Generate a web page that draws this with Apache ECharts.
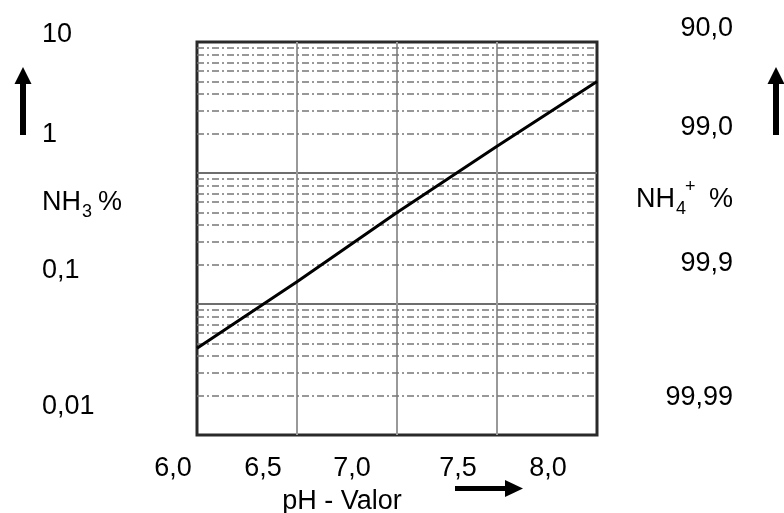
<!DOCTYPE html>
<html>
<head>
<meta charset="utf-8">
<script src="https://cdn.jsdelivr.net/npm/echarts@6/dist/echarts.min.js"></script>
<style>
  html, body { margin: 0; padding: 0; background: #fff; }
  #chart { width: 784px; height: 513px; }
</style>
</head>
<body>
<div id="chart"></div>
<script>
// pH values and NH3 share (%)
var phValues = [6.0, 6.5, 7.0, 7.5, 8.0];
var nh3Percent = [0.046, 0.148, 0.50, 1.6, 5.0];

// tick labels (placed loosely like the original figure)
var xTickLabels = ['6,0', '6,5', '7,0', '7,5', '8,0'];
var leftTickLabels = ['10', '1', '0,1', '0,01'];
var rightTickLabels = ['90,0', '99,0', '99,9', '99,99'];

// minor grid: 2..9 within each decade
var decades = [0.01, 0.1, 1];
var minorSteps = [2, 3, 4, 5, 6, 7, 8, 9];

var FONT = 'Liberation Sans, Arial, sans-serif';

var chart = echarts.init(document.getElementById('chart'), null, { renderer: 'canvas' });

var minorLines = [];
decades.forEach(function (d) {
  minorSteps.forEach(function (k) {
    minorLines.push({ yAxis: +(d * k).toPrecision(3) });
  });
});

function txt(text, x, y, align, size) {
  return {
    type: 'text',
    x: x,
    y: y,
    z: 10,
    style: {
      text: text,
      fill: '#000',
      font: (size || 27) + 'px ' + FONT,
      align: align || 'left',
      verticalAlign: 'middle'
    }
  };
}

var leftY = [35, 135, 271, 407];
var rightY = [29, 128, 264, 398];
var xLabelX = [173, 263, 352, 458, 548];

var graphics = [];
leftTickLabels.forEach(function (t, i) { graphics.push(txt(t, 42, leftY[i], 'left')); });
rightTickLabels.forEach(function (t, i) { graphics.push(txt(t, 733, rightY[i], 'right')); });
xTickLabels.forEach(function (t, i) { graphics.push(txt(t, xLabelX[i], 469, 'center')); });
graphics.push(txt('pH - Valor', 342, 502, 'center'));

// NH3 % (left)
graphics.push(txt('NH', 42, 203, 'left'));
graphics.push(txt('3', 82, 212, 'left', 18));
graphics.push(txt('%', 98, 203, 'left'));
// NH4+ % (right)
graphics.push(txt('NH', 636, 200, 'left'));
graphics.push(txt('4', 676, 209, 'left', 18));
graphics.push(txt('+', 685, 187, 'left', 18));
graphics.push(txt('%', 709, 200, 'left'));

// arrows
function vArrow(cx) {
  graphics.push({ type: 'rect', shape: { x: cx - 3, y: 82, width: 6, height: 53 }, style: { fill: '#000' } });
  graphics.push({ type: 'polygon', shape: { points: [[cx - 8.5, 84], [cx + 8.5, 84], [cx, 67]] }, style: { fill: '#000' } });
}
vArrow(23);
vArrow(776);
graphics.push({ type: 'rect', shape: { x: 455, y: 486, width: 52, height: 5 }, style: { fill: '#000' } });
graphics.push({ type: 'polygon', shape: { points: [[505, 480], [505, 497], [523, 488.5]] }, style: { fill: '#000' } });

var option = {
  backgroundColor: '#fff',
  animation: false,
  grid: {
    left: 197,
    right: 187,
    top: 42,
    bottom: 78,
    show: true,
    borderColor: '#2a2a2a',
    borderWidth: 3,
    backgroundColor: 'transparent'
  },
  xAxis: {
    type: 'value',
    min: 6,
    max: 8,
    interval: 0.5,
    axisLine: { show: false },
    axisTick: { show: false },
    axisLabel: { show: false },
    splitLine: { show: true, showMinLine: false, showMaxLine: false, lineStyle: { color: '#999', width: 2 } }
  },
  yAxis: {
    type: 'log',
    logBase: 10,
    min: 0.01,
    max: 10,
    axisLine: { show: false },
    axisTick: { show: false },
    axisLabel: { show: false },
    splitLine: { show: true, showMinLine: false, showMaxLine: false, lineStyle: { color: '#6e6e6e', width: 2 } }
  },
  series: [
    {
      type: 'line',
      data: phValues.map(function (p, i) { return [p, nh3Percent[i]]; }),
      symbol: 'none',
      z: 5,
      lineStyle: { color: '#000', width: 3 },
      markLine: {
        silent: true,
        symbol: 'none',
        label: { show: false },
        lineStyle: { color: '#777', width: 1.6, type: [7, 3, 2, 3] },
        data: minorLines,
        z: 1
      }
    }
  ],
  graphic: graphics
};

chart.setOption(option);
</script>
</body>
</html>
